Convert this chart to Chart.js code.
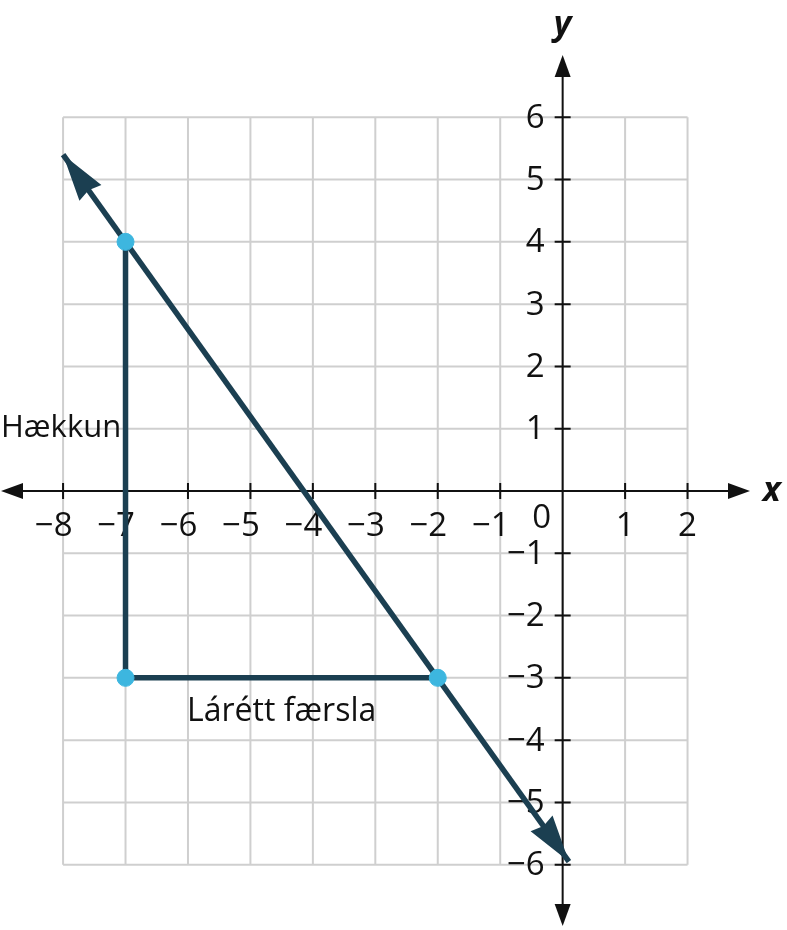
<!DOCTYPE html>
<html>
<head>
<meta charset="utf-8">
<script src="https://cdn.jsdelivr.net/npm/chart.js@4/dist/chart.umd.min.js"></script>
<style>
  html, body { margin: 0; padding: 0; background: #fff; }
  #graph { display: block; }
</style>
</head>
<body>
<canvas id="graph" width="787" height="930"></canvas>
<script>
// grid range and tick labels
const xTicks = [-8, -7, -6, -5, -4, -3, -2, -1, 1, 2];
const yTicks = [-6, -5, -4, -3, -2, -1, 1, 2, 3, 4, 5, 6];
const gridX = [-8, 2];
const gridY = [-6, 6];

// the line through the two points, read at its arrow tips
const lineX = [-8, 0.1];
const lineY = [5.4, -5.95];

// rise / run triangle
const triX = [-7, -7, -2];
const triY = [4, -3, -3];

const riseLabel = 'Hækkun';
const runLabel = 'Lárétt færsla';

const DARK = '#1b3f51';
const DOT = '#3db6df';
const FONT = '"Open Sans", "Noto Sans", sans-serif';

const toPts = (xs, ys) => xs.map((x, i) => ({ x, y: ys[i] }));

const arrowHead = (ctx, tipX, tipY, fromX, fromY, len, half, color, notch = 1) => {
    const a = Math.atan2(tipY - fromY, tipX - fromX);
    ctx.save();
    ctx.translate(tipX, tipY);
    ctx.rotate(a);
    ctx.fillStyle = color;
    ctx.beginPath();
    ctx.moveTo(0, 0);
    ctx.lineTo(-len, -half);
    ctx.lineTo(-len * notch, 0);
    ctx.lineTo(-len, half);
    ctx.closePath();
    ctx.fill();
    ctx.restore();
};

// grid, axes, ticks and labels
const gridPlugin = {
    id: 'coordGrid',
    beforeDatasetsDraw(chart) {
        const { ctx, scales: { x, y }, chartArea } = chart;
        const px = v => x.getPixelForValue(v);
        const py = v => y.getPixelForValue(v);
        ctx.save();

        // light grid
        ctx.strokeStyle = '#cfcfcf';
        ctx.lineWidth = 2;
        for (let i = gridX[0]; i <= gridX[1]; i++) {
            ctx.beginPath();
            ctx.moveTo(px(i), py(gridY[0]));
            ctx.lineTo(px(i), py(gridY[1]));
            ctx.stroke();
        }
        for (let j = gridY[0]; j <= gridY[1]; j++) {
            ctx.beginPath();
            ctx.moveTo(px(gridX[0]), py(j));
            ctx.lineTo(px(gridX[1]), py(j));
            ctx.stroke();
        }

        // axes
        const x0 = px(0), y0 = py(0);
        ctx.strokeStyle = '#111';
        ctx.lineWidth = 2;
        ctx.beginPath();
        ctx.moveTo(chartArea.left + 12, y0);
        ctx.lineTo(chartArea.right - 12, y0);
        ctx.moveTo(x0, chartArea.top + 12);
        ctx.lineTo(x0, chartArea.bottom - 12);
        ctx.stroke();
        arrowHead(ctx, chartArea.left + 1, y0, chartArea.left + 50, y0, 22, 8, '#111');
        arrowHead(ctx, chartArea.right, y0, chartArea.right - 50, y0, 22, 8, '#111');
        arrowHead(ctx, x0, chartArea.top, x0, chartArea.top + 50, 22, 8, '#111');
        arrowHead(ctx, x0, chartArea.bottom - 1, x0, chartArea.bottom - 50, 22, 8, '#111');

        // tick marks
        ctx.beginPath();
        xTicks.forEach(v => { ctx.moveTo(px(v), y0 - 8); ctx.lineTo(px(v), y0 + 8); });
        yTicks.forEach(v => { ctx.moveTo(x0 - 8, py(v)); ctx.lineTo(x0 + 8, py(v)); });
        ctx.stroke();

        // tick labels
        ctx.fillStyle = '#111';
        ctx.font = `33px ${FONT}`;
        ctx.textBaseline = 'middle';
        xTicks.forEach(v => {
            const txt = v < 0 ? '\u2212' + Math.abs(v) : String(v);
            const digitW = ctx.measureText(String(Math.abs(v))).width;
            const fullW = ctx.measureText(txt).width;
            ctx.textAlign = 'left';
            ctx.fillText(txt, px(v) + digitW / 2 - fullW, y0 + 36);
        });
        ctx.textAlign = 'right';
        yTicks.forEach(v => {
            const txt = v < 0 ? '\u2212' + Math.abs(v) : String(v);
            ctx.fillText(txt, x0 - 18, py(v) + 1);
        });
        ctx.textAlign = 'center';
        ctx.fillText('0', x0 - 21, y0 + 28);

        // axis names
        ctx.font = `italic bold 34px ${FONT}`;
        ctx.fillText('x', px(0) + 209, y0);
        ctx.fillText('y', x0, chartArea.top - 30);

        // triangle labels
        ctx.font = `31px ${FONT}`;
        ctx.textAlign = 'left';
        ctx.fillText(riseLabel, 1, py(1) - 1);
        ctx.font = `32px ${FONT}`;
        ctx.textAlign = 'center';
        ctx.fillText(runLabel, (px(triX[1]) + px(triX[2])) / 2, py(-3) + 34);
        ctx.restore();
    },
    afterDatasetsDraw(chart) {
        const { ctx, scales: { x, y } } = chart;
        const ax = lineX.map(v => x.getPixelForValue(v));
        const ay = lineY.map(v => y.getPixelForValue(v));
        arrowHead(ctx, ax[0], ay[0], ax[1], ay[1], 47, 13.5, DARK, 0.93);
        arrowHead(ctx, ax[1], ay[1], ax[0], ay[0], 47, 13.5, DARK, 0.93);
    }
};

new Chart(document.getElementById('graph'), {
    type: 'scatter',
    data: {
        datasets: [
            {
                label: 'line',
                data: toPts(lineX, lineY),
                showLine: true,
                borderColor: DARK,
                borderWidth: 5.5,
                pointRadius: 0,
                order: 2
            },
            {
                label: 'triangle',
                data: toPts(triX, triY),
                showLine: true,
                borderColor: DARK,
                borderWidth: 5.5,
                pointRadius: 0,
                order: 3
            },
            {
                label: 'points',
                data: toPts(triX, triY),
                showLine: false,
                backgroundColor: DOT,
                borderColor: DOT,
                pointRadius: 8.5,
                order: 1
            }
        ]
    },
    options: {
        responsive: false,
        animation: false,
        devicePixelRatio: 1,
        layout: { autoPadding: false, padding: { left: 0, right: 37, top: 55, bottom: 3 } },
        scales: {
            x: { type: 'linear', min: -9.01, max: 3, display: false },
            y: { type: 'linear', min: -7, max: 7, display: false }
        },
        plugins: {
            legend: { display: false },
            tooltip: { enabled: false }
        },
        elements: { line: { tension: 0 } }
    },
    plugins: [gridPlugin]
});
</script>
</body>
</html>
